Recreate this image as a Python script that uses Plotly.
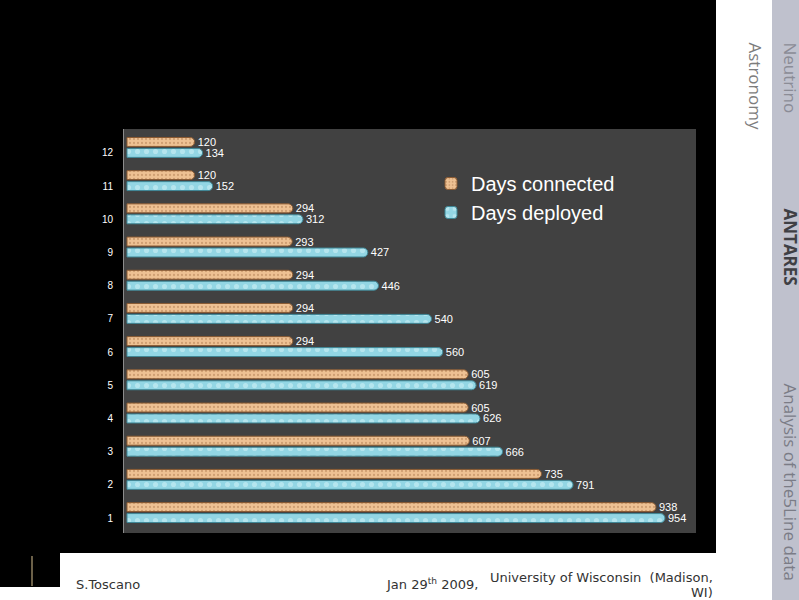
import plotly.graph_objects as go

categories = ["1", "2", "3", "4", "5", "6", "7", "8", "9", "10", "11", "12"]
days_connected = [938, 735, 607, 605, 605, 294, 294, 294, 293, 294, 120, 120]
days_deployed = [954, 791, 666, 626, 619, 560, 540, 446, 427, 312, 152, 134]
series_names = ["Days connected", "Days deployed"]

W, H = 799, 600
def px(x):
    return x / W
def py(y):
    return (H - y) / H

fig = go.Figure()

fig.add_trace(go.Bar(
    name=series_names[1], y=categories, x=days_deployed, orientation="h",
    width=0.27, offset=-0.135,
    marker=dict(color="#93d6e4", line=dict(color="#3f8796", width=1), cornerradius="50%",
                pattern=dict(shape=".", fgcolor="#d8f4f8", size=9, solidity=0.25)),
    text=days_deployed, textposition="outside", cliponaxis=False, constraintext="none",
    textfont=dict(color="white", size=11, family="Arial"),
    legendgroup="b", legendrank=2,
))
fig.add_trace(go.Bar(
    name=series_names[0], y=categories, x=days_connected, orientation="h",
    width=0.27, offset=0.195,
    marker=dict(color="#eec193", line=dict(color="#8a5a32", width=1), cornerradius="50%",
                pattern=dict(shape=".", fgcolor="#b07c52", size=4, solidity=0.25)),
    text=days_connected, textposition="outside", cliponaxis=False, constraintext="none",
    textfont=dict(color="white", size=11, family="Arial"),
    legendgroup="a", legendrank=1,
))

shapes = [
    dict(type="rect", xref="paper", yref="paper", x0=px(60), x1=px(716), y0=0, y1=py(553),
         fillcolor="white", line=dict(width=0), layer="below"),
    dict(type="rect", xref="paper", yref="paper", x0=0, x1=px(60), y0=0, y1=py(587),
         fillcolor="white", line=dict(width=0), layer="below"),
    dict(type="rect", xref="paper", yref="paper", x0=px(716), x1=px(772), y0=0, y1=1,
         fillcolor="white", line=dict(width=0), layer="below"),
    dict(type="rect", xref="paper", yref="paper", x0=px(772), x1=1, y0=0, y1=1,
         fillcolor="#bfc1cd", line=dict(width=0), layer="below"),
    dict(type="line", xref="paper", yref="paper", x0=px(32), x1=px(32), y0=py(586), y1=py(556),
         line=dict(color="#6b6048", width=2), layer="below"),
]

def ann(text, x, y, xanchor, yanchor, font, textangle=0):
    return dict(text=text, xref="paper", yref="paper", x=x, y=y, xanchor=xanchor,
                yanchor=yanchor, textangle=textangle, showarrow=False, font=font)

annotations = [
    ann("Astronomy", px(755), py(40), "center", "top",
        dict(family="Open Sans", size=17, color="#7d7d7d"), 90),
    ann("Neutrino", px(790), py(40), "center", "top",
        dict(family="Open Sans", size=17, color="#8b8c96"), 90),
    ann("<b>ANTARES</b>", px(790), py(206), "center", "top",
        dict(family="Open Sans", size=17, color="#3f3f44"), 90),
    ann("Analysis of the5Line data", px(790), py(381), "center", "top",
        dict(family="Open Sans", size=17, color="#7b7c86"), 90),
    ann("S.Toscano", px(74), py(584), "left", "middle",
        dict(family="DejaVu Sans", size=13, color="#333333")),
    ann("Jan 29<sup>th</sup> 2009,", px(384), py(584), "left", "middle",
        dict(family="DejaVu Sans", size=13, color="#333333")),
    ann("University of Wisconsin  (Madison,", px(715), py(577), "right", "middle",
        dict(family="DejaVu Sans", size=13, color="#333333")),
    ann("WI)", px(715), py(592), "right", "middle",
        dict(family="DejaVu Sans", size=13, color="#333333")),
]

fig.update_layout(
    width=W, height=H, autosize=False,
    margin=dict(l=0, r=0, t=0, b=0),
    paper_bgcolor="black", plot_bgcolor="#414141",
    barmode="overlay",
    showlegend=True,
    legend=dict(x=px(431), y=py(164), xanchor="left", yanchor="top", bgcolor="rgba(0,0,0,0)",
                font=dict(family="Arial", size=20, color="white"), tracegroupgap=0,
                itemwidth=30),
    xaxis=dict(domain=[px(124), px(696)], range=[-5.3, 1009], showgrid=False, zeroline=False,
               showticklabels=False, ticks="", automargin=False),
    yaxis=dict(domain=[py(533), py(129)], type="category", categoryarray=categories,
               categoryorder="array", range=[-0.45, 11.72], showgrid=False, zeroline=False,
               showline=True, linecolor="#8c8c8c", linewidth=1,
               ticks="outside", ticklen=8, tickcolor="rgba(0,0,0,0)",
               tickfont=dict(family="Arial", size=10, color="white"), automargin=False),
    shapes=shapes, annotations=annotations,
)

fig.write_html("out.html", config={"displayModeBar": False},
               post_script="document.body.style.margin='0';document.body.style.overflow='hidden';")
